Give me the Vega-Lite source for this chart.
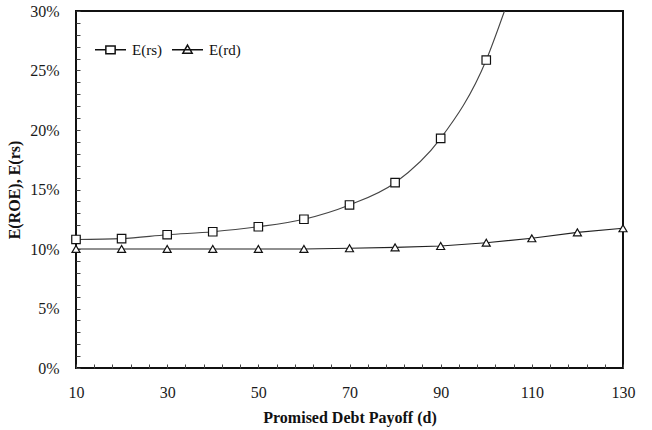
{
  "$schema": "https://vega.github.io/schema/vega-lite/v6.json",
  "width": 547,
  "height": 357,
  "autosize": {"type": "none"},
  "padding": {"left": 76, "top": 11, "right": 29, "bottom": 62},
  "background": "white",
  "config": {
    "font": "Liberation Serif",
    "view": {"stroke": "#111", "strokeWidth": 2},
    "axis": {
      "labelFont": "Liberation Serif",
      "labelFontSize": 16,
      "labelColor": "#1a1a1a",
      "labelFlush": false,
      "labelOverlap": false,
      "titleFont": "Liberation Serif",
      "titleFontSize": 16,
      "titleFontWeight": "bold",
      "titleColor": "#111",
      "grid": false,
      "domain": false,
      "tickColor": "#444",
      "tickWidth": 1,
      "tickSize": -4
    }
  },
  "data": {
    "values": [
      {"d": 10, "series": "E(rs)", "value": 0.108},
      {"d": 20, "series": "E(rs)", "value": 0.1087},
      {"d": 30, "series": "E(rs)", "value": 0.112},
      {"d": 40, "series": "E(rs)", "value": 0.1145},
      {"d": 50, "series": "E(rs)", "value": 0.1187},
      {"d": 60, "series": "E(rs)", "value": 0.125},
      {"d": 70, "series": "E(rs)", "value": 0.137},
      {"d": 80, "series": "E(rs)", "value": 0.1557},
      {"d": 90, "series": "E(rs)", "value": 0.193},
      {"d": 100, "series": "E(rs)", "value": 0.2588},
      {"d": 104, "series": "E(rs)", "value": 0.30},
      {"d": 10, "series": "E(rd)", "value": 0.10},
      {"d": 20, "series": "E(rd)", "value": 0.10},
      {"d": 30, "series": "E(rd)", "value": 0.10},
      {"d": 40, "series": "E(rd)", "value": 0.10},
      {"d": 50, "series": "E(rd)", "value": 0.10},
      {"d": 60, "series": "E(rd)", "value": 0.10},
      {"d": 70, "series": "E(rd)", "value": 0.1006},
      {"d": 80, "series": "E(rd)", "value": 0.1014},
      {"d": 90, "series": "E(rd)", "value": 0.1025},
      {"d": 100, "series": "E(rd)", "value": 0.1053},
      {"d": 110, "series": "E(rd)", "value": 0.109},
      {"d": 120, "series": "E(rd)", "value": 0.114},
      {"d": 130, "series": "E(rd)", "value": 0.1174}
    ]
  },
  "encoding": {
    "x": {
      "field": "d",
      "type": "quantitative",
      "scale": {"domain": [10, 130], "nice": false, "zero": false},
      "axis": {
        "title": "Promised Debt Payoff (d)",
        "values": [10,14,18,22,26,30,34,38,42,46,50,54,58,62,66,70,74,78,82,86,90,94,98,102,106,110,114,118,122,126,130],
        "labelExpr": "(datum.value - 10) % 20 == 0 ? datum.value : ''",
        "labelPadding": 20,
        "titlePadding": 9
      }
    },
    "y": {
      "field": "value",
      "type": "quantitative",
      "scale": {"domain": [0, 0.3], "nice": false},
      "axis": {
        "title": "E(ROE), E(rs)",
        "values": [0,0.01,0.02,0.03,0.04,0.05,0.06,0.07,0.08,0.09,0.1,0.11,0.12,0.13,0.14,0.15,0.16,0.17,0.18,0.19,0.2,0.21,0.22,0.23,0.24,0.25,0.26,0.27,0.28,0.29,0.3],
        "labelExpr": "round(datum.value * 100) % 5 == 0 ? format(datum.value, '.0%') : ''",
        "labelPadding": 21,
        "titlePadding": 7
      }
    }
  },
  "layer": [
    {
      "transform": [{"filter": "datum.series == 'E(rs)'"}],
      "mark": {"type": "line", "interpolate": "monotone", "color": "#444", "strokeWidth": 1.1}
    },
    {
      "transform": [{"filter": "datum.series == 'E(rd)'"}],
      "mark": {"type": "line", "color": "#222", "strokeWidth": 1.1}
    },
    {
      "transform": [{"filter": "datum.series == 'E(rs)' && datum.d % 10 == 0"}],
      "mark": {"type": "point", "shape": "square", "filled": true, "fill": "white", "stroke": "#111", "strokeWidth": 1.2, "size": 72, "opacity": 1}
    },
    {
      "transform": [{"filter": "datum.series == 'E(rd)'"}],
      "mark": {"type": "point", "shape": "triangle-up", "filled": true, "fill": "white", "stroke": "#111", "strokeWidth": 1.2, "size": 64, "opacity": 1}
    },
    {
      "transform": [{"filter": "datum.d % 10 == 0"}],
      "mark": {"type": "point", "filled": true, "fill": "white", "stroke": "#111", "size": 10, "opacity": 0},
      "encoding": {
        "shape": {
          "field": "series",
          "type": "nominal",
          "scale": {"domain": ["E(rs)", "E(rd)"], "range": ["M-1,0H-0.3M0.3,0H1M-0.3,-0.25H0.3V0.25H-0.3Z", "M-1,0H1M0,-0.3L0.3,0.22H-0.3Z"]},
          "legend": {
            "title": null,
            "orient": "none",
            "legendX": 18,
            "legendY": 22,
            "direction": "horizontal",
            "symbolSize": 961,
            "labelFont": "Liberation Serif",
            "labelFontSize": 15,
            "labelColor": "#111",
            "labelOffset": 5,
            "columnPadding": 7,
            "encode": {
              "symbols": {
                "update": {
                  "fill": {"value": "white"},
                  "stroke": {"value": "#111"},
                  "strokeWidth": {"value": 1.2},
                  "opacity": {"value": 1},
                  "fillOpacity": {"value": 1},
                  "strokeOpacity": {"value": 1}
                }
              }
            }
          }
        }
      }
    }
  ]
}
